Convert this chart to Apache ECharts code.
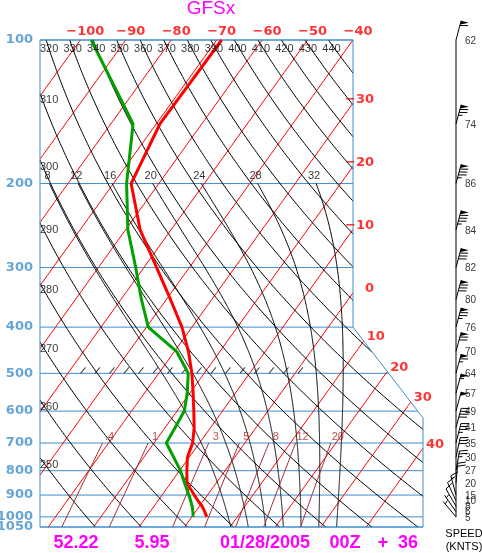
<!DOCTYPE html>
<html>
<head>
<meta charset="utf-8">
<script src="https://cdn.jsdelivr.net/npm/echarts@6.0.0/dist/echarts.min.js"></script>
<style>
  html, body { margin: 0; padding: 0; background: #fff; }
  #chart-container { width: 482px; height: 553px; }
</style>
</head>
<body>
<div id="chart-container"></div>
<script>
// sounding (hPa, degC, knots)
var levels = [1000, 975, 950, 925, 900, 850, 800, 750, 700, 650, 600, 550, 500, 450, 400, 350, 300, 250, 200, 150, 100];
var tempC = [3.3, 2.0, 0.6, -1.2, -2.9, -6.4, -8.4, -10.4, -11.5, -13.6, -16.3, -19.3, -22.7, -26.9, -32.2, -39.1, -47.2, -56.8, -66.1, -69.2, -68.9];
var dewC = [0.3, -0.6, -1.6, -2.8, -4.1, -6.9, -9.8, -13.4, -17.3, -17.8, -18.4, -20.6, -23.5, -29.5, -39.6, -45.5, -51.8, -59.5, -67.1, -75.1, -97.6];
var windKt = [5, 6, 8, 10, 15, 20, 27, 30, 35, 41, 49, 57, 64, 70, 76, 80, 82, 84, 86, 74, 62];
var windDir = [320, 325, 330, 335, 345, 5, 10, 12, 14, 15, 15, 15, 15, 15, 15, 15, 15, 15, 15, 15, 15];

// background lines of the diagram
var isobarP = [100, 200, 300, 400, 500, 600, 700, 800, 900, 1000, 1050];
var isothermC = [-100, -90, -80, -70, -60, -50, -40, -30, -20, -10, 0, 10, 20, 30, 40];
var dryThetaK = [250, 260, 270, 280, 290, 300, 310, 320, 330, 340, 350, 360, 370, 380, 390, 400, 410, 420, 430, 440];
var moistThetaC = [8, 12, 16, 20, 24, 28, 32];
var mixRatioG = [0.4, 1, 3, 5, 8, 12, 20];
var mixLabels = ['.4', '1', '3', '5', '8', '12', '20'];

var BLUE = '#3f8dcc', RED = '#ff0000', BROWN = '#a0282d', GREEN = '#00a000', MAGENTA = '#ff00ff';
var FONT = 'Liberation Sans', WIDE = 'DejaVu Sans';

// skewed x position (pixel-like units of the x axis) of temperature t at pressure p
function skewX(t, p) { return 353 + 4.545 * (t + 40) - 343 * Math.log10(p / 100); }

// plot outline: box with the upper right corner cut off
var LEFT = 40, RIGHT = 423, TOPX = 353, P_TOP = 100, P_BOT = 1050, CUT1 = 400, CUT2 = 620;
function rightLimit(p) {
  if (p <= CUT1) return TOPX;
  if (p >= CUT2) return RIGHT;
  return TOPX + (RIGHT - TOPX) * Math.log(p / CUT1) / Math.log(CUT2 / CUT1);
}
function inside(pt) {
  var e = 1e-6;
  return pt[1] >= P_TOP - e && pt[1] <= P_BOT + e && pt[0] >= LEFT - e && pt[0] <= rightLimit(pt[1]) + e;
}
function lerp(a, b, f) {
  return [a[0] + (b[0] - a[0]) * f, Math.exp(Math.log(a[1]) + (Math.log(b[1]) - Math.log(a[1])) * f)];
}
function crossing(a, b) {
  var lo = 0, hi = 1;
  for (var k = 0; k < 30; k++) {
    var m = (lo + hi) / 2;
    if (inside(lerp(a, b, m))) lo = m; else hi = m;
  }
  return lerp(a, b, lo);
}
function clipCurve(pts) {
  var out = [], cur = null;
  for (var i = 0; i < pts.length; i++) {
    if (inside(pts[i])) {
      if (!cur) { cur = []; if (i > 0) cur.push(crossing(pts[i], pts[i - 1])); }
      cur.push(pts[i]);
    } else if (cur) {
      cur.push(crossing(pts[i - 1], pts[i]));
      out.push(cur);
      cur = null;
    }
  }
  if (cur) out.push(cur);
  return out;
}
function pSteps(p0, p1, n) {
  var a = [];
  for (var i = 0; i <= n; i++) a.push(Math.exp(Math.log(p0) + (Math.log(p1) - Math.log(p0)) * i / n));
  return a;
}

function esat(tc) { return 6.112 * Math.exp(17.67 * tc / (tc + 243.5)); }
function moistLapse(tk, p) {
  var es = esat(tk - 273.15), rs = 0.622 * es / (p - es);
  var Rd = 287.04, Lv = 2.501e6, cp = 1005.7;
  return (Rd * tk + Lv * rs) / p / (cp + Lv * Lv * rs * 0.622 / (Rd * tk * tk));
}
function moistCurve(twC) {
  var up = [], dn = [], dp = 2, t, p, k1, k2;
  t = twC + 273.15; p = 1000;
  up.push([skewX(t - 273.15, p), p]);
  while (p > 200) {
    k1 = moistLapse(t, p);
    k2 = moistLapse(t - k1 * dp / 2, p - dp / 2);
    t -= k2 * dp; p -= dp;
    up.push([skewX(t - 273.15, p), p]);
  }
  t = twC + 273.15; p = 1000;
  while (p < 1050) {
    k1 = moistLapse(t, p);
    k2 = moistLapse(t + k1 * dp / 2, p + dp / 2);
    t += k2 * dp; p += dp;
    dn.unshift([skewX(t - 273.15, p), p]);
  }
  return dn.concat(up);
}
function mixTd(w, p) {
  var e = w * p / (622 + w), l = Math.log(e / 6.112);
  return 243.5 * l / (17.67 - l);
}

var labelItems = [];
function addLabel(pt, text, color, size, align, dx, dy, weight, family) {
  labelItems.push({
    value: pt,
    label: {
      formatter: text, color: color, fontSize: size, align: align, offset: [dx, dy],
      fontWeight: weight || 'normal', fontFamily: family || FONT
    }
  });
}
function lastPoint(segs) { var s = segs[segs.length - 1]; return s[s.length - 1]; }

var isobarLines = isobarP.map(function (p) { return { coords: [[LEFT, p], [rightLimit(p), p]] }; });
var border = [{ coords: [[LEFT, P_TOP], [TOPX, P_TOP], [TOPX, CUT1], [RIGHT, CUT2], [RIGHT, P_BOT], [LEFT, P_BOT], [LEFT, P_TOP]] }];
isobarP.forEach(function (p) { addLabel([LEFT, p], String(p), BLUE, 13, 'right', -7, 0, 'bold', WIDE); });

var isothermLines = [];
isothermC.forEach(function (t) {
  var segs = clipCurve(pSteps(P_BOT, P_TOP, 60).map(function (p) { return [skewX(t, p), p]; }));
  segs.forEach(function (s) { isothermLines.push({ coords: s }); });
  if (!segs.length) return;
  var e = lastPoint(segs), txt = (t < 0 ? '\u2212' : '') + Math.abs(t);
  if (Math.abs(e[1] - P_TOP) < 0.5) addLabel(e, txt, RED, 13, 'center', 5, -8, 'bold', WIDE);
  else addLabel(e, txt, RED, 13, 'right', 21, -4, 'bold', WIDE);
});

var dryLines = [];
dryThetaK.forEach(function (th) {
  var segs = clipCurve(pSteps(P_BOT, P_TOP, 160).map(function (p) {
    return [skewX(th * Math.pow(p / 1000, 0.286) - 273.15, p), p];
  }));
  segs.forEach(function (s) { dryLines.push({ coords: s }); });
  if (!segs.length) return;
  var e = lastPoint(segs);
  if (Math.abs(e[1] - P_TOP) < 0.5) addLabel(e, String(th), '#000', 11, 'center', 3, 9);
  else addLabel(e, String(th), '#000', 11, 'left', 0, 7);
});

var moistLines = [];
moistThetaC.forEach(function (tw) {
  var segs = clipCurve(moistCurve(tw));
  segs.forEach(function (s) { moistLines.push({ coords: s }); });
  if (!segs.length) return;
  addLabel(lastPoint(segs), String(tw), '#000', 11, 'center', -2, -8);
});

var mixLines = [];
mixRatioG.forEach(function (w, i) {
  var segs = clipCurve(pSteps(P_BOT, 700, 30).map(function (p) { return [skewX(mixTd(w, p), p), p]; }));
  segs.forEach(function (s) { mixLines.push({ coords: s }); });
  addLabel([skewX(mixTd(w, 700), 700), 700], mixLabels[i], BROWN, 11, 'center', 7, -6);
});

var tempLine = levels.map(function (p, i) { return [skewX(tempC[i], p), p]; });
var dewLine = levels.map(function (p, i) { return [skewX(dewC[i], p), p]; });

var hatch = [];
for (var hx = 83; hx <= 302; hx += 14.5) hatch.push([hx, 500]);

var windData = levels.map(function (p, i) { return [0, p, windKt[i], windDir[i]]; });

function renderBarb(params, api) {
  var pt = api.coord([0, api.value(1)]);
  var spd = Math.round(api.value(2) / 5) * 5;
  var d = api.value(3) * Math.PI / 180;
  var ux = Math.sin(d), uy = -Math.cos(d), rx = -uy, ry = ux;
  var len = 20;
  var tip = [pt[0] + ux * len, pt[1] + uy * len];
  var st = { stroke: '#000', lineWidth: 1 };
  function along(k) { return [tip[0] - ux * k, tip[1] - uy * k]; }
  var kids = [{ type: 'line', shape: { x1: pt[0], y1: pt[1], x2: tip[0], y2: tip[1] }, style: st }];
  var pos = 0, a, b;
  while (spd >= 50) {
    a = along(pos); b = along(pos + 4);
    kids.push({ type: 'polygon', shape: { points: [a, [a[0] + rx * 8, a[1] + ry * 8], b] }, style: { fill: '#000' } });
    pos += 5; spd -= 50;
  }
  while (spd >= 10) {
    a = along(pos);
    kids.push({ type: 'line', shape: { x1: a[0], y1: a[1], x2: a[0] + rx * 8 + ux * 2, y2: a[1] + ry * 8 + uy * 2 }, style: st });
    pos += 3; spd -= 10;
  }
  if (spd >= 5) {
    if (pos === 0) pos = 3;
    a = along(pos);
    kids.push({ type: 'line', shape: { x1: a[0], y1: a[1], x2: a[0] + rx * 4 + ux, y2: a[1] + ry * 4 + uy }, style: st });
  }
  return { type: 'group', children: kids };
}

var dom = document.getElementById('chart-container');
var myChart = echarts.init(dom, null, { renderer: 'canvas' });

function bgLines(data, color, z) {
  return {
    type: 'lines', coordinateSystem: 'cartesian2d', polyline: true, silent: true, clip: false, z: z,
    lineStyle: { color: color, width: 1, opacity: 1 }, data: data
  };
}

var bigFont = 'bold 18px "Liberation Sans"';
function magentaText(x, text) {
  return { type: 'text', x: x, y: 543, style: { text: text, fill: MAGENTA, font: bigFont, textAlign: 'center', textVerticalAlign: 'middle' } };
}

var option = {
  animation: false,
  backgroundColor: '#fff',
  grid: [
    { left: 40, top: 40, width: 383, height: 487, outerBoundsMode: 'none', containLabel: false },
    { left: 440, top: 40, width: 32, height: 487, outerBoundsMode: 'none', containLabel: false }
  ],
  xAxis: [
    { type: 'value', min: 40, max: 423, show: false, gridIndex: 0 },
    { type: 'value', min: -1, max: 1, show: false, gridIndex: 1 }
  ],
  yAxis: [
    { type: 'log', logBase: 10, min: 100, max: 1050, inverse: true, gridIndex: 0, show: false },
    { type: 'log', logBase: 10, min: 100, max: 1050, inverse: true, gridIndex: 1, show: false }
  ],
  graphic: [
    { type: 'text', x: 211, y: 9, style: { text: 'GFSx', fill: MAGENTA, font: '19px "Liberation Sans"', textAlign: 'center', textVerticalAlign: 'middle' } },
    magentaText(76, '52.22'),
    magentaText(152, '5.95'),
    magentaText(265, '01/28/2005'),
    magentaText(345, '00Z'),
    magentaText(383, '+'),
    magentaText(408, '36'),
    { type: 'text', x: 464, y: 534, style: { text: 'SPEED', fill: '#000', font: '11px "Liberation Sans"', textAlign: 'center', textVerticalAlign: 'middle' } },
    { type: 'text', x: 464, y: 547, style: { text: '(KNTS)', fill: '#000', font: '11px "Liberation Sans"', textAlign: 'center', textVerticalAlign: 'middle' } }
  ],
  series: [
    bgLines(isobarLines, BLUE, 1),
    bgLines(isothermLines, RED, 2),
    bgLines(dryLines, '#000', 2),
    bgLines(moistLines, '#000', 2),
    bgLines(mixLines, BROWN, 2),
    bgLines(border, BLUE, 3),
    {
      type: 'scatter', data: hatch, symbol: 'path://M6,0L0,7', symbolSize: [5, 6], symbolOffset: [0, -3],
      itemStyle: { color: 'rgba(0,0,0,0)', borderColor: '#000', borderWidth: 1 }, silent: true, z: 3
    },
    {
      name: 'Temperature', type: 'line', data: tempLine, showSymbol: false, symbol: 'none', z: 5,
      lineStyle: { color: RED, width: 3 }
    },
    {
      name: 'Dew point', type: 'line', data: dewLine, showSymbol: false, symbol: 'none', z: 5,
      lineStyle: { color: GREEN, width: 3 }
    },
    {
      type: 'scatter', data: labelItems, symbolSize: 1, clip: false, silent: true, z: 10,
      itemStyle: { color: 'rgba(0,0,0,0)' },
      label: { show: true, position: 'inside', fontFamily: FONT, verticalAlign: 'middle' }
    },
    {
      type: 'line', xAxisIndex: 1, yAxisIndex: 1, data: [[0, 100], [0, 1000]], symbol: 'none', z: 3,
      lineStyle: { color: '#000', width: 1 }
    },
    {
      type: 'custom', xAxisIndex: 1, yAxisIndex: 1, data: windData, renderItem: renderBarb, z: 4, silent: true, clip: false
    },
    {
      type: 'scatter', xAxisIndex: 1, yAxisIndex: 1, symbolSize: 1, clip: false, silent: true, z: 10,
      data: windData.map(function (d) { return [0, d[1], d[2]]; }),
      itemStyle: { color: 'rgba(0,0,0,0)' },
      label: {
        show: true, position: 'inside', align: 'left', verticalAlign: 'middle', offset: [9, 1],
        fontSize: 10, fontFamily: FONT, color: '#000',
        formatter: function (p) { return String(p.value[2]); }
      }
    }
  ]
};

if (option && typeof option === 'object') {
  myChart.setOption(option);
}

window.addEventListener('resize', myChart.resize);
</script>
</body>
</html>
